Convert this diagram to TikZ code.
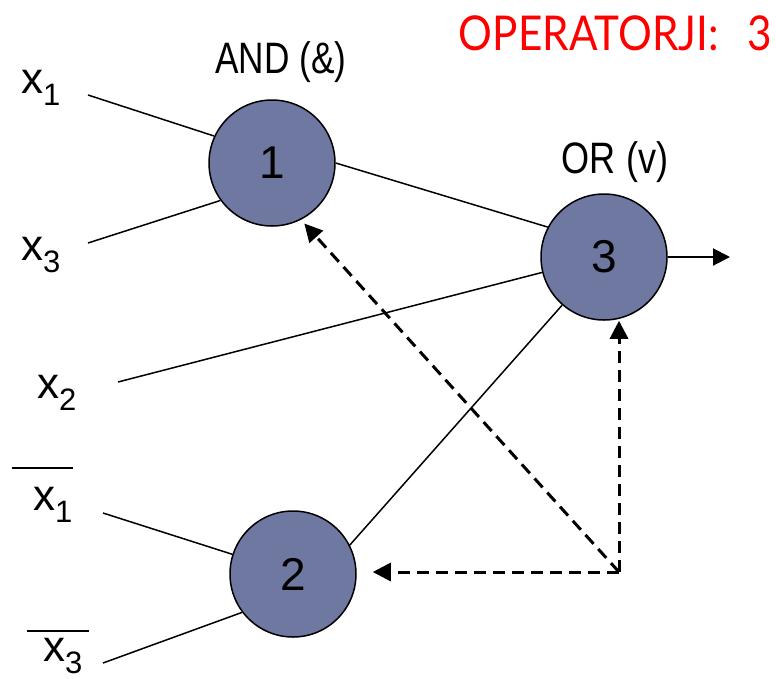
\documentclass[tikz,border=0pt]{standalone}
\usepackage{fontspec}
\setmainfont{Liberation Sans}
\newfontfamily\redfont{Lato}
\usetikzlibrary{arrows.meta}
\definecolor{nodefill}{RGB}{111,120,160}
\definecolor{redtxt}{RGB}{255,0,0}
\newcommand{\xlab}[1]{x\raisebox{-12pt}{\fontsize{31}{31}\selectfont #1}}
\tikzset{
  gate/.style={circle, draw=black, line width=1.5pt, fill=nodefill, minimum size=126pt, inner sep=0pt, font=\fontsize{46}{46}\selectfont},
  varlab/.style={anchor=base west, inner sep=0pt, font=\fontsize{44}{44}\selectfont},
  oplab/.style={anchor=base, inner sep=0pt, font=\fontsize{44}{44}\selectfont},
  wire/.style={line width=1.5pt},
  bar/.style={line width=2pt},
  dasharrow/.style={line width=3pt, dash pattern=on 12pt off 7pt, -{Triangle[length=18pt,width=18pt]}},
  outarrow/.style={line width=2pt, -{Triangle[length=17pt,width=17pt]}}
}
\begin{document}
\begin{tikzpicture}[x=1pt,y=-1pt]
\useasboundingbox (0,0) rectangle (776,678);
% gates
\node[gate] (n1) at (272,163) {1};
\node[gate] (n3) at (604,257) {3};
\node[gate] (n2) at (293,574) {2};
% labels
\node[oplab] (and) at (281,73) {\scalebox{0.8}[1]{AND (\&)}};
\node[oplab] (or) at (615,173) {\scalebox{0.82}[1]{OR (v)}};
\node[anchor=base east, inner sep=0pt, text=redtxt, font=\redfont\fontsize{48}{48}\selectfont] (ops) at (772,50) {\scalebox{0.88}[1]{OPERATORJI:\ \ \,3}};
\node[varlab] (lx1) at (21,93) {\xlab{1}};
\node[varlab] (lx3) at (21,260) {\xlab{3}};
\node[varlab] (lx2) at (37,398) {\xlab{2}};
\node[varlab] (lnx1) at (33,510) {\xlab{1}};
\node[varlab] (lnx3) at (43,661) {\xlab{3}};
\draw[bar] (12,468) -- (73,468);
\draw[bar] (27,631) -- (89,631);
% free ends
\coordinate (s1) at (88,95);
\coordinate (s3) at (88,243);
\coordinate (s2) at (118,382);
\coordinate (sn1) at (103,513);
\coordinate (sn3) at (103,663);
\coordinate (out) at (730,257);
\coordinate (corner) at (619,572);
% wires
\draw[wire] (s1) -- (n1.155);
\draw[wire] (s3) -- (n1.216);
\draw[wire] (n1.0) -- (n3.152);
\draw[wire] (s2) -- (n3.194);
\draw[wire] (n2.27) -- (n3.229.5);
\draw[wire] (sn1) -- (n2.162);
\draw[wire] (sn3) -- (n2.217.5);
\draw[outarrow] (n3.east) -- (out);
% dashed feedback
\draw[dasharrow] (corner) -- (corner |- n3.south);
\draw[dasharrow, shorten >=16pt] (corner) -- (corner -| n2.east);
\draw[dasharrow, shorten >=5pt] (corner) -- (n1.-63);
\end{tikzpicture}
\end{document}
